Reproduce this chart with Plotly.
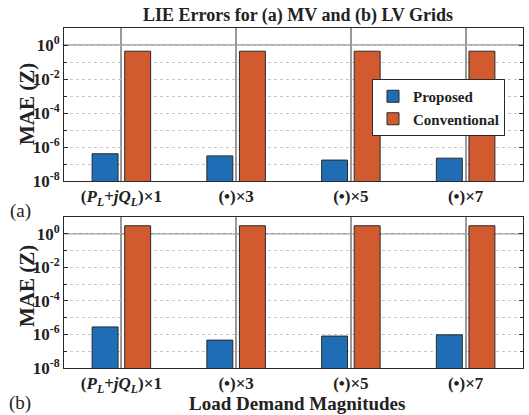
import plotly.graph_objects as go

categories = ["(<i>P<sub>L</sub></i>+<i>jQ<sub>L</sub></i>)×1", "(•)×3", "(•)×5", "(•)×7"]
mv_proposed = [4.0e-7, 3.0e-7, 1.7e-7, 2.2e-7]
mv_conventional = [0.43, 0.43, 0.43, 0.43]
lv_proposed = [2.8e-6, 4.6e-7, 8.0e-7, 9.5e-7]
lv_conventional = [3.0, 3.0, 3.0, 3.0]
series_names = ["Proposed", "Conventional"]
ref_level = 1.0
y_major_vals = [1e-8, 1e-6, 1e-4, 1e-2, 1e0]
y_major_text = ["10<sup>-8</sup>", "10<sup>-6</sup>", "10<sup>-4</sup>", "10<sup>-2</sup>", "10<sup>0</sup>"]
y_minor_vals = [1e-7, 1e-5, 1e-3, 1e-1]

W, H = 529, 415
BLUE = "#1f6db4"
ORANGE = "#d25a2f"
EDGE = "#2a2a2a"
FONT = "Liberation Serif"

fig = go.Figure()
panels = [("x", "y", mv_proposed, mv_conventional, True),
          ("x2", "y2", lv_proposed, lv_conventional, False)]
for xa, ya, prop, conv, show in panels:
    fig.add_trace(go.Bar(x=categories, y=prop, name=series_names[0], xaxis=xa, yaxis=ya,
                         marker=dict(color=BLUE, line=dict(color=EDGE, width=1)),
                         offset=-0.255, width=0.226, showlegend=show))
    fig.add_trace(go.Bar(x=categories, y=conv, name=series_names[1], xaxis=xa, yaxis=ya,
                         marker=dict(color=ORANGE, line=dict(color=EDGE, width=1)),
                         offset=0.029, width=0.226, showlegend=show))

xdom = [64 / W, 523 / W]
ydom_top = [1 - 181 / H, 1 - 28 / H]
ydom_bot = [1 - 368 / H, 1 - 217 / H]

def xaxis(dom, anchor):
    return dict(domain=dom, anchor=anchor, type="category", range=[-0.5, 3.5],
                automargin=False,
                showgrid=True, gridcolor="#9a9a9a", gridwidth=2,
                showline=True, linecolor=EDGE, linewidth=1, mirror=True, ticks="",
                ticklabelstandoff=0,
                tickfont=dict(family=FONT, size=17, color="#222", weight="bold"),
                zeroline=False)

def yaxis(dom, anchor):
    return dict(domain=dom, anchor=anchor, type="log", range=[-8, 1],
                automargin=False,
                tickvals=y_major_vals, ticktext=y_major_text,
                showgrid=True, gridcolor="#c8c8c8", gridwidth=1, griddash="dot",
                showline=True, linecolor=EDGE, linewidth=1, mirror="allticks",
                ticks="inside", ticklen=4, tickcolor=EDGE,
                minor=dict(tickvals=y_minor_vals, showgrid=True, gridcolor="#c8c8c8",
                           gridwidth=1, griddash="dot", ticks="inside", ticklen=3,
                           tickcolor=EDGE),
                tickfont=dict(family=FONT, size=17, color="#222", weight="bold"),
                zeroline=False)

fig.update_layout(
    width=W, height=H, margin=dict(l=0, r=0, t=0, b=0, pad=0, autoexpand=False),
    paper_bgcolor="white", plot_bgcolor="white", barmode="overlay",
    xaxis=xaxis(xdom, "y"), yaxis=yaxis(ydom_top, "x"),
    xaxis2=xaxis(xdom, "y2"), yaxis2=yaxis(ydom_bot, "x2"),
    legend=dict(x=372 / W, y=1 - 79 / H, xanchor="left", yanchor="top",
                bgcolor="white", bordercolor=EDGE, borderwidth=1,
                font=dict(family=FONT, size=15, color="#222", weight="bold"),
                tracegroupgap=0),
    showlegend=True,
)

for xa, ya in [("x", "y"), ("x2", "y2")]:
    fig.add_shape(type="line", xref=f"{xa} domain", x0=0, x1=1, yref=ya, y0=ref_level, y1=ref_level,
                  line=dict(color="#9a9a9a", width=1.5), layer="below")

def ann(text, x, y, size, bold=True, angle=0):
    fig.add_annotation(text=text, xref="paper", yref="paper", x=x / W, y=1 - y / H,
                       xanchor="center", yanchor="middle", showarrow=False, textangle=angle,
                       font=dict(family=FONT, size=size, color="#222",
                                 weight="bold" if bold else "normal"))

ann("LIE Errors for (a) MV and (b) LV Grids", 297.5, 15, 18)
ann("MAE (Z)", 27, 104, 21, angle=-90)
ann("MAE (Z)", 27, 286, 21, angle=-90)
ann("(a)", 20, 211, 19, bold=False)
ann("(b)", 20, 403, 19, bold=False)
ann("Load Demand Magnitudes", 297, 403, 19)

fig.write_html("out.html")
